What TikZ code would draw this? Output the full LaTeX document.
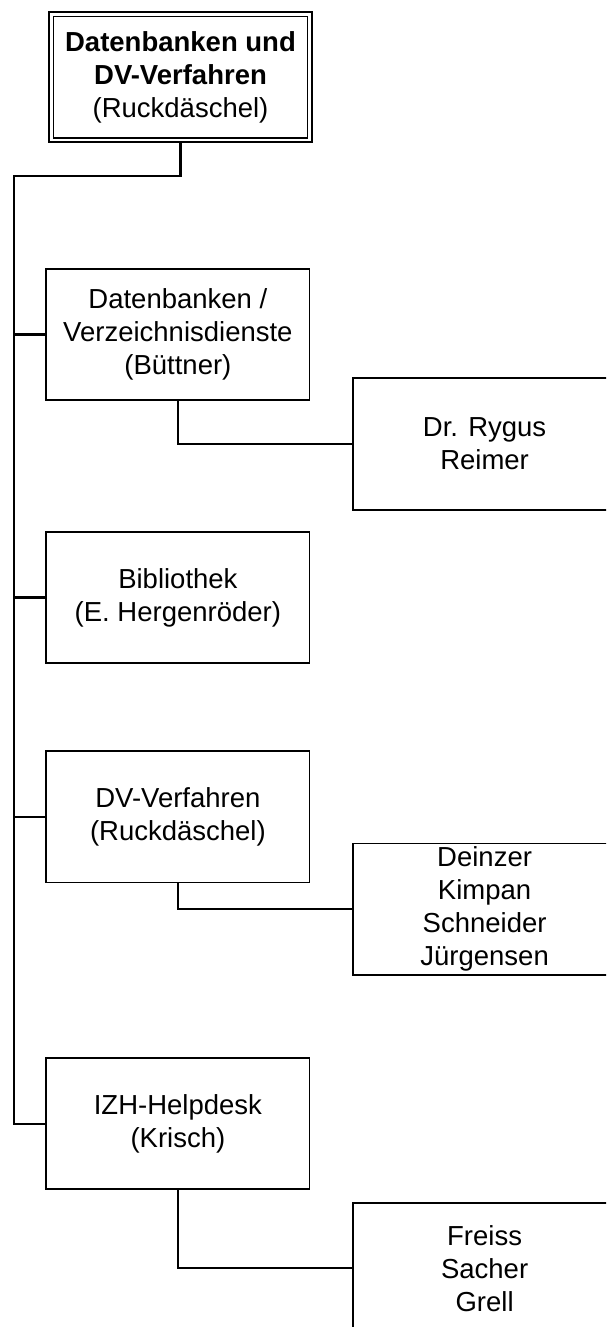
\documentclass[tikz,border=0pt]{standalone}
\usepackage{fontspec}
\setmainfont{Liberation Sans}
\begin{document}
\begin{tikzpicture}[x=1pt,y=-1pt,
  box/.style={draw, line width=1.8pt, minimum width=263.3pt, minimum height=131.3pt,
    inner sep=0pt, outer sep=0pt, align=center, font=\fontsize{27.5}{33}\selectfont},
  topbox/.style={box, double, line width=1.7pt, double distance=2.7pt,
    minimum width=258.4pt, minimum height=125.7pt, outer sep=3.05pt},
  link/.style={line width=2.2pt}]
\useasboundingbox (0,0) rectangle (606,1327);
\clip (0,0) rectangle (606,1327);
% head
\node[topbox] (top) at (180.5,77.2) {\textbf{Datenbanken und}\\\textbf{DV-Verfahren}\\(Ruckdäschel)};
% departments
\node[box] (db)  at (177.9,334.5)  {Datenbanken /\\Verzeichnisdienste\\(Büttner)};
\node[box] (bib) at (177.9,597.5)  {Bibliothek\\(E. Hergenröder)};
\node[box] (dv)  at (177.9,816.8)  {DV-Verfahren\\(Ruckdäschel)};
\node[box] (izh) at (177.9,1123.6) {IZH-Helpdesk\\(Krisch)};
% staff
\node[box] (ry)  at (484.6,444)    {Dr. Rygus\\Reimer};
\node[box] (dk)  at (484.6,909.2)  {Deinzer\\Kimpan\\Schneider\\Jürgensen};
\node[box] (fr)  at (484.6,1268.3) {Freiss\\Sacher\\Grell};
% trunk
\coordinate (c1) at (14,176);
\draw[link] (top.south) |- (c1) -- (c1 |- izh.west) -- (izh.west);
\draw[link] (c1 |- db.west) -- (db.west);
\draw[link] (c1 |- bib.west) -- (bib.west);
\draw[link] (c1 |- dv.west) -- (dv.west);
% sub links
\draw[link] (db.south) |- (ry.west);
\draw[link] (dv.south) |- (dk.west);
\draw[link] (izh.south) |- (fr.west);
\end{tikzpicture}
\end{document}
